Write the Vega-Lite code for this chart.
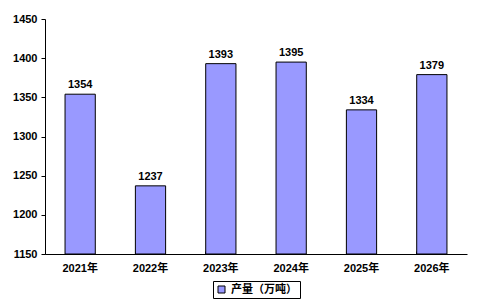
{
  "$schema": "https://vega.github.io/schema/vega-lite/v6.json",
  "width": 422,
  "height": 235,
  "autosize": "none",
  "padding": {"left": 45, "top": 19, "right": 10, "bottom": 51},
  "background": "white",
  "data": {"values": [
    {"year": "2021年", "value": 1354, "series": "产量（万吨）"},
    {"year": "2022年", "value": 1237, "series": "产量（万吨）"},
    {"year": "2023年", "value": 1393, "series": "产量（万吨）"},
    {"year": "2024年", "value": 1395, "series": "产量（万吨）"},
    {"year": "2025年", "value": 1334, "series": "产量（万吨）"},
    {"year": "2026年", "value": 1379, "series": "产量（万吨）"}
  ]},
  "encoding": {
    "x": {"field": "year", "type": "nominal", "sort": null,
      "scale": {"paddingInner": 0.57, "paddingOuter": 0.285},
      "axis": {"title": null, "labelAngle": 0, "ticks": true, "bandPosition": 0, "tickExtra": true, "tickSize": -3, "tickColor": "black", "labelPadding": 11,
        "domainColor": "black", "labelFont": "Liberation Sans, Noto Sans CJK SC", "labelFontWeight": "bold", "labelFontSize": 11, "labelColor": "black"}},
    "y": {"field": "value", "type": "quantitative",
      "scale": {"domain": [1150, 1450], "nice": false, "zero": false},
      "axis": {"title": null, "values": [1150, 1200, 1250, 1300, 1350, 1400, 1450], "grid": false, "format": "d",
        "tickSize": 4, "tickColor": "black", "domainColor": "black", "labelPadding": 4,
        "labelFont": "Liberation Sans", "labelFontWeight": "bold", "labelFontSize": 11, "labelColor": "black"}}
  },
  "layer": [
    {"mark": {"type": "bar", "stroke": "black", "strokeWidth": 1},
     "encoding": {
       "y2": {"datum": 1150},
       "color": {"field": "series", "type": "nominal",
        "scale": {"range": ["#9999FF"]},
        "legend": {"title": null, "orient": "bottom", "direction": "horizontal", "symbolType": "square",
          "symbolSize": 49, "symbolStrokeColor": "black", "symbolStrokeWidth": 1, "strokeColor": "black",
          "padding": 3, "offset": 8, "labelFont": "Noto Sans CJK SC", "labelFontWeight": "bold", "labelFontSize": 11, "labelColor": "black"}}}},
    {"mark": {"type": "text", "dy": -9, "fontWeight": "bold", "fontSize": 11, "font": "Liberation Sans", "color": "black"},
     "encoding": {"text": {"field": "value", "type": "quantitative", "format": "d"}}}
  ],
  "config": {"view": {"stroke": null}, "axis": {"domainWidth": 1},
    "legend": {"layout": {"bottom": {"anchor": "middle"}}}}
}
